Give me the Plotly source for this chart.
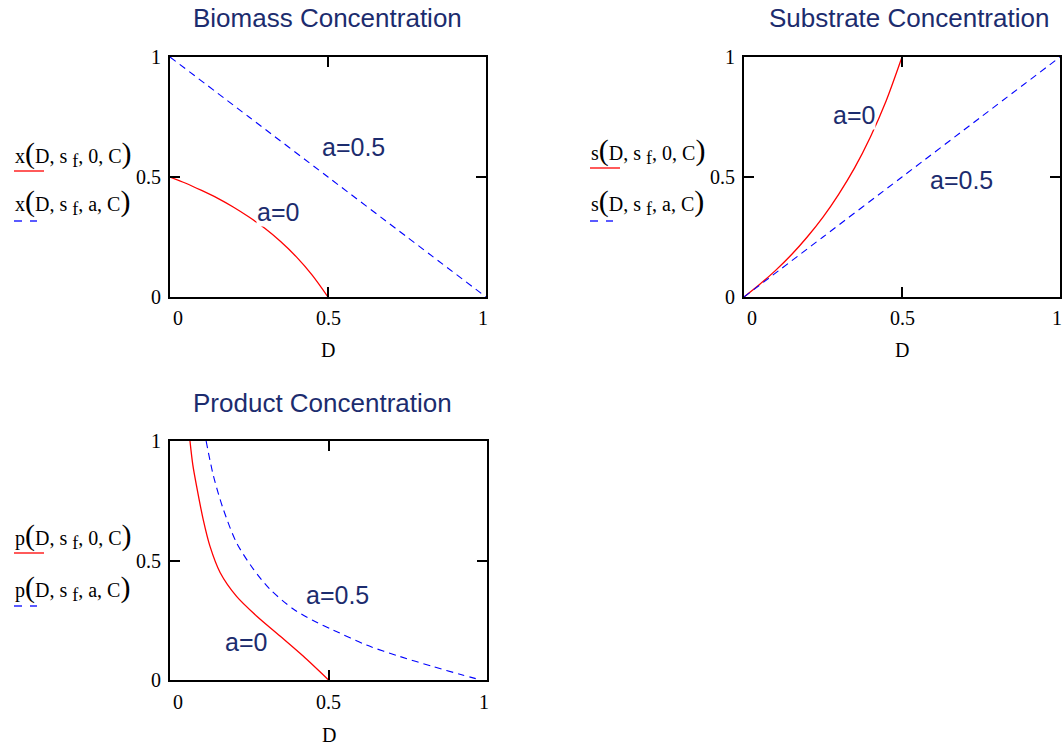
import plotly.graph_objects as go

# ---------------- data ----------------
# Biomass concentration
bio_D_a0 = [0, 0.05, 0.1, 0.15, 0.2, 0.25, 0.3, 0.35, 0.4, 0.45, 0.5]
bio_x_a0 = [0.5, 0.474, 0.444, 0.412, 0.375, 0.333, 0.286, 0.231, 0.167, 0.091, 0.0]
bio_D_a05 = [0, 0.25, 0.5, 0.75, 1.0]
bio_x_a05 = [1.0, 0.75, 0.5, 0.25, 0.0]

# Substrate concentration
sub_D_a0 = [0, 0.05, 0.1, 0.15, 0.2, 0.25, 0.3, 0.35, 0.4, 0.45, 0.5]
sub_s_a0 = [0.0, 0.053, 0.111, 0.176, 0.25, 0.333, 0.429, 0.538, 0.667, 0.818, 1.0]
sub_D_a05 = [0, 0.25, 0.5, 0.75, 1.0]
sub_s_a05 = [0.0, 0.25, 0.5, 0.75, 1.0]

# Product concentration
pro_D_a0 = [0.063, 0.072, 0.084, 0.105, 0.126, 0.158, 0.21, 0.273, 0.347, 0.42, 0.5]
pro_p_a0 = [1.0, 0.9, 0.81, 0.67, 0.56, 0.45, 0.35, 0.268, 0.184, 0.1, 0.0]
pro_D_a05 = [0.114, 0.137, 0.168, 0.21, 0.263, 0.315, 0.389, 0.45, 0.515, 0.62, 0.726, 0.83, 0.92, 0.98]
pro_p_a05 = [1.0, 0.854, 0.715, 0.574, 0.464, 0.38, 0.297, 0.25, 0.209, 0.146, 0.098, 0.056, 0.022, 0.0]

tick_vals = [0, 0.5, 1]
tick_text = ["0", "0.5", "1"]
titles = ["Biomass Concentration", "Substrate Concentration", "Product Concentration"]
y_names = ["x", "s", "p"]
x_title = "D"
curve_labels = ["a=0", "a=0.5"]

# ---------------- layout helpers ----------------
W, H = 1064, 746
def px(x):
    return x / W
def py(y):
    return 1 - y / H

NAVY = "#1c2c6e"
SERIF = "Liberation Serif, Times New Roman, serif"
SANS = "Liberation Sans, Arial, sans-serif"

# plot boxes in pixels: (left, right, top, bottom)
boxes = [(170, 486, 57, 297), (744, 1060, 57, 297), (170, 487, 441, 680)]

fig = go.Figure()

series = [
    (bio_D_a0, bio_x_a0, bio_D_a05, bio_x_a05),
    (sub_D_a0, sub_s_a0, sub_D_a05, sub_s_a05),
    (pro_D_a0, pro_p_a0, pro_D_a05, pro_p_a05),
]

for i, (d0, v0, d5, v5) in enumerate(series):
    xa = "x" if i == 0 else f"x{i+1}"
    ya = "y" if i == 0 else f"y{i+1}"
    fig.add_trace(go.Scatter(x=d0, y=v0, mode="lines", xaxis=xa, yaxis=ya,
                             line=dict(color="#ff0000", width=1.3, shape="spline", smoothing=0.8),
                             showlegend=False, hoverinfo="skip"))
    fig.add_trace(go.Scatter(x=d5, y=v5, mode="lines", xaxis=xa, yaxis=ya,
                             line=dict(color="#0000ff", width=1.1, dash="7px,5px", shape="spline", smoothing=0.8),
                             showlegend=False, hoverinfo="skip"))

axis_common = dict(range=[0, 1], showline=True, linecolor="black", linewidth=2,
                   mirror="allticks", ticks="inside", ticklen=10, tickwidth=2,
                   tickcolor="black", tickvals=tick_vals, showticklabels=False,
                   showgrid=False, zeroline=False, fixedrange=True)

layout_axes = {}
for i, (l, r, t, b) in enumerate(boxes):
    xk = "xaxis" if i == 0 else f"xaxis{i+1}"
    yk = "yaxis" if i == 0 else f"yaxis{i+1}"
    xanchor = "y" if i == 0 else f"y{i+1}"
    yanchor = "x" if i == 0 else f"x{i+1}"
    layout_axes[xk] = dict(domain=[px(l), px(r)], anchor=xanchor, **axis_common)
    layout_axes[yk] = dict(domain=[py(b), py(t)], anchor=yanchor, **axis_common)

annotations = []
shapes = []

# titles
title_pos = [(327, 18), (909, 18), (322, 403)]
for i, (tx, ty) in enumerate(title_pos):
    annotations.append(dict(text=titles[i], x=px(tx), y=py(ty), xref="paper", yref="paper",
                            xanchor="center", yanchor="middle", showarrow=False,
                            font=dict(family=SANS, size=26, color=NAVY)))

# tick labels and axis titles
xlab_y = [318, 318, 702]
d_y = [350, 350, 735]
x_shift = [8, 0, -3]
for i, (l, r, t, b) in enumerate(boxes):
    xr = "x" if i == 0 else f"x{i+1}"
    yr = "y" if i == 0 else f"y{i+1}"
    for v, txt, sh in zip(tick_vals, tick_text, x_shift):
        annotations.append(dict(text=txt, x=v, y=py(xlab_y[i]), xref=xr, yref="paper",
                                xanchor="center", yanchor="middle", xshift=sh, showarrow=False,
                                font=dict(family=SERIF, size=20, color="black")))
        annotations.append(dict(text=txt, x=px(l - 7), y=v, xref="paper", yref=yr,
                                xanchor="right", yanchor="middle", showarrow=False,
                                font=dict(family=SERIF, size=20, color="black")))
    annotations.append(dict(text=x_title, x=0.5, y=py(d_y[i]), xref=xr, yref="paper",
                            xanchor="center", yanchor="middle", showarrow=False,
                            font=dict(family=SERIF, size=20, color="black")))

# y-axis function labels with legend strokes
ylab = [(13, 153, 202), (589, 150, 202), (13, 535, 587)]
for i, (lx, y1, y2) in enumerate(ylab):
    n = y_names[i]
    big_o = "<span style='font-size:30px'>(</span>"
    big_c = "<span style='font-size:30px'>)</span>"
    sub_f = "<sub><span style='font-size:18px'>f</span></sub>"
    t1 = f"{n}{big_o}D, s {sub_f}, 0, C{big_c}"
    t2 = f"{n}{big_o}D, s {sub_f}, a, C{big_c}"
    for txt, yy in ((t1, y1), (t2, y2)):
        annotations.append(dict(text=txt, x=px(lx), y=py(yy), xref="paper", yref="paper",
                                xanchor="left", yanchor="middle", showarrow=False,
                                font=dict(family=SERIF, size=20, color="black")))
    # red solid stroke
    shapes.append(dict(type="line", xref="paper", yref="paper",
                       x0=px(lx + 1), x1=px(lx + 31), y0=py(y1 + 18), y1=py(y1 + 18),
                       line=dict(color="#ff0000", width=1.3)))
    # blue dashed stroke (two dashes)
    for a0, a1 in ((1, 9), (17, 24)):
        shapes.append(dict(type="line", xref="paper", yref="paper",
                           x0=px(lx + a0), x1=px(lx + a1), y0=py(y2 + 19), y1=py(y2 + 19),
                           line=dict(color="#0000ff", width=1.3)))

# curve labels (a=0, a=0.5) in each panel, pixel centers
label_pos = [
    [(278, 212), (353, 147)],
    [(854, 115), (961, 180)],
    [(246, 642), (337, 595)],
]
for i, pair in enumerate(label_pos):
    for lab, (cx, cy) in zip(curve_labels, pair):
        annotations.append(dict(text=lab, x=px(cx), y=py(cy), xref="paper", yref="paper",
                                xanchor="center", yanchor="middle", showarrow=False,
                                bgcolor="white", borderpad=0,
                                font=dict(family=SANS, size=25, color=NAVY)))

fig.update_layout(width=W, height=H, autosize=False,
                  margin=dict(l=0, r=0, t=0, b=0),
                  paper_bgcolor="white", plot_bgcolor="white",
                  annotations=annotations, shapes=shapes, **layout_axes)

fig.write_html("out.html", config={"displayModeBar": False},
               post_script="document.body.style.margin='0';document.body.style.overflow='hidden';")
